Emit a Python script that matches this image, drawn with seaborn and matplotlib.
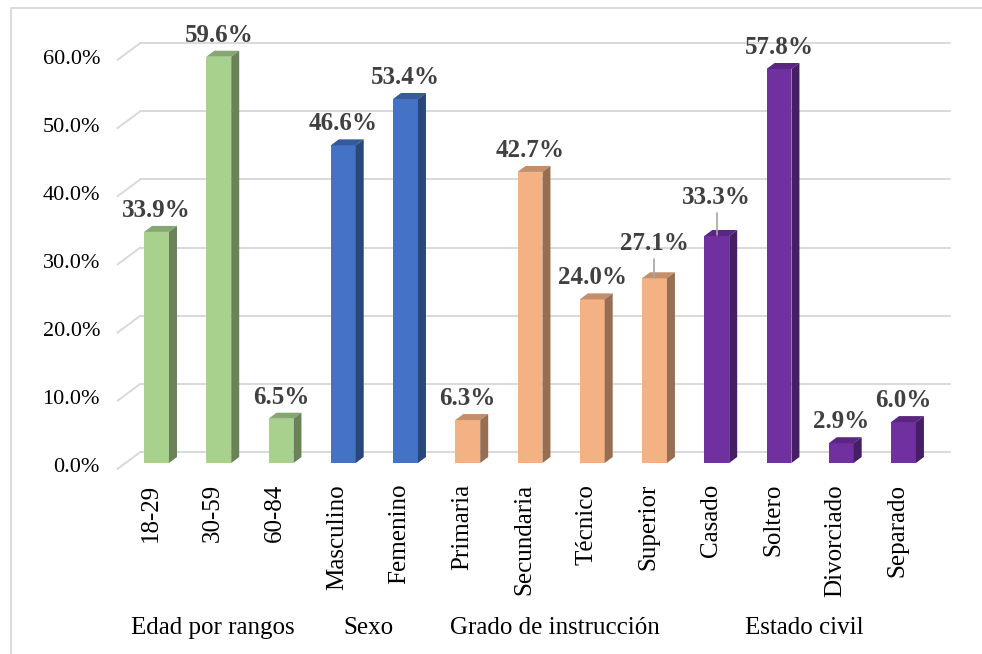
import numpy as np
import pandas as pd
import matplotlib
matplotlib.use("Agg")
import matplotlib.pyplot as plt
import seaborn as sns
from matplotlib.transforms import ScaledTranslation
from matplotlib.patches import Polygon
from matplotlib.lines import Line2D
from matplotlib.colors import to_rgb

# data
categories = ["18-29", "30-59", "60-84", "Masculino", "Femenino",
              "Primaria", "Secundaria", "Técnico", "Superior",
              "Casado", "Soltero", "Divorciado", "Separado"]
values = [33.9, 59.6, 6.5, 46.6, 53.4, 6.3, 42.7, 24.0, 27.1, 33.3, 57.8, 2.9, 6.0]
groups = ["Edad por rangos"] * 3 + ["Sexo"] * 2 + ["Grado de instrucción"] * 4 + ["Estado civil"] * 4
group_names = ["Edad por rangos", "Sexo", "Grado de instrucción", "Estado civil"]
y_ticks = [0, 10, 20, 30, 40, 50, 60]

group_colors = {"Edad por rangos": "#A9D18E", "Sexo": "#4472C4",
                "Grado de instrucción": "#F4B183", "Estado civil": "#7030A0"}
leader_lift = {"Superior": 28, "Casado": 32}   # labels pushed up with a leader line

sns.set_theme(style="white")
plt.rcParams["font.family"] = ["Liberation Serif", "DejaVu Serif"]

W, H, DPI = 982, 654, 100
fig = plt.figure(figsize=(W / DPI, H / DPI), dpi=DPI)
fig.patch.set_facecolor("white")

# axes placed so that bar fronts sit on the "middle" plane of the 3d box
left_px, right_px, top_px, bot_px = 125.4, 934.6, 54, 463
ax = fig.add_axes([left_px / W, (H - bot_px) / H,
                   (right_px - left_px) / W, (bot_px - top_px) / H])

df = pd.DataFrame({"cat": categories, "val": values, "grp": groups})
palette = [group_colors[g] for g in groups]
sns.barplot(data=df, x="cat", y="val", hue="cat", order=categories, hue_order=categories,
            palette=palette, legend=False, width=0.4, saturation=1, linewidth=0, ax=ax, zorder=2)

ax.set_xlim(-0.5, len(categories) - 0.5)
ax.set_ylim(0, 60)
ax.set_axis_off()


def off(dx, dy):
    # pixel offset (dy positive = up)
    return ax.transData + ScaledTranslation(dx / DPI, dy / DPI, fig.dpi_scale_trans)


def to_px(x, y):
    return ax.transData.transform((x, y))


ident = matplotlib.transforms.IdentityTransform()
grid_c = "#D9D9D9"
BACK = (15, 11)
FRONT = (-8, -6)
xl, xr = ax.get_xlim()

# back-wall gridlines + floor/side diagonals
for v in y_ticks:
    p0 = to_px(xl, v)
    p1 = to_px(xr, v)
    ax.add_line(Line2D([p0[0] + BACK[0], p1[0] + BACK[0]], [p0[1] + BACK[1], p1[1] + BACK[1]],
                       transform=ident, color=grid_c, lw=1.4, zorder=0.5, clip_on=False))
    ax.add_line(Line2D([p0[0] + FRONT[0], p0[0] + BACK[0]], [p0[1] + FRONT[1], p0[1] + BACK[1]],
                       transform=ident, color=grid_c, lw=1.4, zorder=0.5, clip_on=False))
    ax.text(xl, v, f"{v:.1f}%", transform=off(-25.4, -5), ha="right", va="center",
            fontsize=16, color="black")


def shade(c, f):
    r, g, b = to_rgb(c)
    return (r * f, g * f, b * f)


# 3d faces for each bar
DX, DY = 8, 6
for p in ax.patches:
    x0 = p.get_x()
    x1 = x0 + p.get_width()
    h = p.get_height()
    idx = int(round(x0 + p.get_width() / 2))
    base = group_colors[groups[idx]]
    a = to_px(x0, h)
    b = to_px(x1, h)
    c = to_px(x1, 0)
    top = Polygon([a, b, (b[0] + DX, b[1] + DY), (a[0] + DX, a[1] + DY)], closed=True,
                  transform=ident, facecolor=shade(base, 0.8), edgecolor="none", zorder=2.1)
    side = Polygon([c, b, (b[0] + DX, b[1] + DY), (c[0] + DX, c[1] + DY)], closed=True,
                   transform=ident, facecolor=shade(base, 0.62), edgecolor="none", zorder=2.1)
    ax.add_patch(top)
    ax.add_patch(side)
    top.set_clip_on(False)
    side.set_clip_on(False)
    p.set_clip_on(False)

# data labels
for i, (cat, v) in enumerate(zip(categories, values)):
    lift = leader_lift.get(cat, 15)
    ax.text(i, v, f"{v:.1f}%", transform=off(0, lift), ha="center", va="baseline",
            fontsize=18, fontweight="bold", color="#404040", clip_on=False, zorder=3)
    if cat in leader_lift:
        q = to_px(i, v)
        ax.add_line(Line2D([q[0], q[0]], [q[1] + 1, q[1] + lift - 9], transform=ident,
                           color="#A6A6A6", lw=1.2, zorder=3, clip_on=False))

# category labels (rotated) and group labels
for i, cat in enumerate(categories):
    ax.text(i, 0, cat, transform=off(-6, -21), rotation=90, ha="center", va="top",
            fontsize=18, color="black")

for g in group_names:
    idxs = [i for i, gg in enumerate(groups) if gg == g]
    ax.text(np.mean(idxs), 0, g, transform=off(-6, -165), ha="center", va="center",
            fontsize=18, color="black")

# chart border (only top and left visible in the reference crop)
fig.add_artist(Line2D([11 / W, 11 / W, 1.0], [0, (H - 8) / H, (H - 8) / H],
                      transform=fig.transFigure, color=grid_c, lw=1.4))

fig.savefig("out.png", dpi=DPI)
